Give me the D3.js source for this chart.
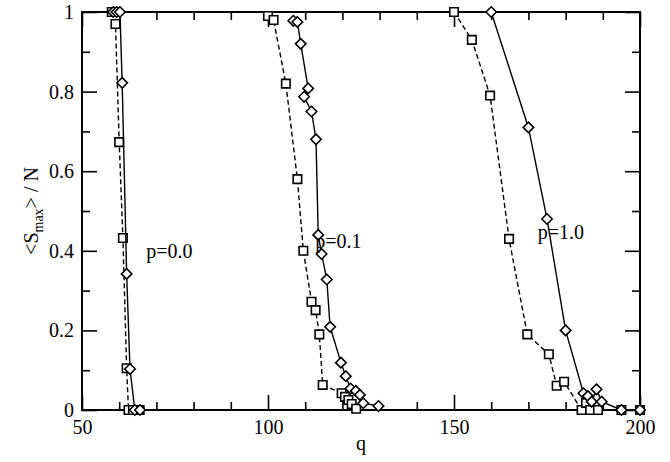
<!DOCTYPE html>
<html>
<head>
<meta charset="utf-8">
<script src="https://cdn.jsdelivr.net/npm/d3@7"></script>
<style>
    body { margin: 0; background: #fff; }
    svg { display: block; }
    text { font-family: "Liberation Serif", "DejaVu Serif", serif; fill: #000; }
</style>
</head>
<body>
<div class="svg"></div>
<script>
// ____________________________Data__________________________

// p = 0.0
const q00Sq = [58, 59, 60, 61, 62, 62.5, 63.7, 65.5];
const s00Sq = [1, 0.97, 0.673, 0.432, 0.105, 0, 0, 0];
const q00Di = [58.4, 59.3, 60.2, 60.8, 62, 62.9, 64.2, 65.6];
const s00Di = [1, 1, 1, 0.822, 0.342, 0.103, 0, 0];

// p = 0.1
const q01Sq = [100, 101.5, 104.8, 107.9, 109.5, 111.7, 112.8, 113.8, 114.7, 119.8, 120.7, 121.6, 122.5, 123.7];
const s01Sq = [0.99, 0.98, 0.82, 0.58, 0.40, 0.272, 0.251, 0.19, 0.063, 0.042, 0.033, 0.025, 0.015, 0.003];
const q01Di = [106.8, 107.9, 108.8, 110.8, 109.7, 111.7, 112.9, 113.5, 114.4, 115.8, 116.7, 119.6, 120.9, 122.2, 123.6, 124.7, 125.6, 129.7];
const s01Di = [0.978, 0.975, 0.92, 0.808, 0.787, 0.75, 0.68, 0.44, 0.392, 0.328, 0.209, 0.119, 0.085, 0.054, 0.048, 0.038, 0.017, 0.01];

// p = 1.0
const q10Sq = [150, 154.8, 159.7, 164.8, 169.7, 175.5, 177.6, 179.6, 184.3, 185.5, 186.6, 188.7, 195, 200];
const s10Sq = [1, 0.93, 0.79, 0.43, 0.19, 0.14, 0.061, 0.071, 0, 0.018, 0, 0, 0, 0];
const q10Di = [160, 170, 175, 180, 184.8, 186, 187, 188.3, 189.7, 195, 200];
const s10Di = [1, 0.71, 0.48, 0.2, 0.042, 0.035, 0.021, 0.052, 0.021, 0, 0];

const xTicks = [50, 100, 150, 200];
const yTicks = [0, 0.2, 0.4, 0.6, 0.8, 1];
const yTickLabels = ["0", "0.2", "0.4", "0.6", "0.8", "1"];

const labels = [
    {text: "p=0.0", q: 67.3, s: 0.383},
    {text: "p=0.1", q: 112.7, s: 0.407},
    {text: "p=1.0", q: 172.5, s: 0.430}
];

// ________________________________________D3 Graphing________________________________________

const width = 670;
const height = 462;
const margin = {top: 12, right: 30, bottom: 52, left: 82};

const svg = d3.select(".svg")
    .append("svg")
    .attr("width", width)
    .attr("height", height);

const xScale = d3.scaleLinear()
    .domain([50, 200])
    .range([margin.left, width - margin.right]);

const yScale = d3.scaleLinear()
    .domain([0, 1])
    .range([height - margin.bottom, margin.top]);

const x0 = xScale(50), x1 = xScale(200);
const y0 = yScale(0), y1 = yScale(1);

// minor ticks every 10 / 0.1, major every 50 / 0.2, all pointing inward on four sides
const xMinor = d3.range(60, 200, 10).filter(v => !xTicks.includes(v));
const yMinor = d3.range(1, 10, 2).map(v => v / 10);

function styleAxis(g) {
    g.select(".domain").remove();
    g.selectAll(".tick line").attr("stroke", "#000").attr("stroke-width", 1.6);
}

svg.append("g")
    .attr("transform", `translate(0,${y0})`)
    .call(d3.axisBottom(xScale).tickValues(xTicks).tickSize(-15).tickPadding(24).tickFormat(d3.format("d")))
    .call(styleAxis)
    .call(g => g.selectAll("text").attr("font-size", 20).attr("dy", 0));

svg.append("g")
    .attr("transform", `translate(0,${y0})`)
    .call(d3.axisBottom(xScale).tickValues(xMinor).tickSize(-8).tickFormat(""))
    .call(styleAxis);

svg.append("g")
    .attr("transform", `translate(0,${y1})`)
    .call(d3.axisTop(xScale).tickValues(xTicks).tickSize(-15).tickFormat(""))
    .call(styleAxis);

svg.append("g")
    .attr("transform", `translate(0,${y1})`)
    .call(d3.axisTop(xScale).tickValues(xMinor).tickSize(-8).tickFormat(""))
    .call(styleAxis);

svg.append("g")
    .attr("transform", `translate(${x0},0)`)
    .call(d3.axisLeft(yScale).tickValues(yTicks).tickSize(-15).tickPadding(8).tickFormat((d, i) => yTickLabels[i]))
    .call(styleAxis)
    .call(g => g.selectAll("text").attr("font-size", 20));

svg.append("g")
    .attr("transform", `translate(${x0},0)`)
    .call(d3.axisLeft(yScale).tickValues(yMinor).tickSize(-8).tickFormat(""))
    .call(styleAxis);

svg.append("g")
    .attr("transform", `translate(${x1},0)`)
    .call(d3.axisRight(yScale).tickValues(yTicks).tickSize(-15).tickFormat(""))
    .call(styleAxis);

svg.append("g")
    .attr("transform", `translate(${x1},0)`)
    .call(d3.axisRight(yScale).tickValues(yMinor).tickSize(-8).tickFormat(""))
    .call(styleAxis);

// frame
svg.append("rect")
    .attr("x", x0)
    .attr("y", y1)
    .attr("width", x1 - x0)
    .attr("height", y0 - y1)
    .attr("fill", "none")
    .attr("stroke", "#000")
    .attr("stroke-width", 2);

// series
const series = [
    {q: q00Sq, s: s00Sq, mark: "square"},
    {q: q00Di, s: s00Di, mark: "diamond"},
    {q: q01Sq, s: s01Sq, mark: "square"},
    {q: q01Di, s: s01Di, mark: "diamond"},
    {q: q10Sq, s: s10Sq, mark: "square"},
    {q: q10Di, s: s10Di, mark: "diamond"}
];

const line = d3.line()
    .x(d => xScale(d[0]))
    .y(d => yScale(d[1]));

const squareSym = d3.symbol().type(d3.symbolSquare).size(72);
const diamondSym = d3.symbol().type(d3.symbolDiamond2).size(70);

series.forEach(function(sr) {
    const pts = d3.zip(sr.q, sr.s);

    svg.append("path")
        .datum(pts)
        .attr("fill", "none")
        .attr("stroke", "#000")
        .attr("stroke-width", 1.4)
        .attr("stroke-dasharray", sr.mark === "square" ? "5,3" : null)
        .attr("d", line);

    svg.append("g")
        .selectAll("path")
        .data(pts)
        .join("path")
            .attr("transform", d => `translate(${xScale(d[0])},${yScale(d[1])})`)
            .attr("d", sr.mark === "square" ? squareSym : diamondSym)
            .attr("fill", "#fff")
            .attr("stroke", "#000")
            .attr("stroke-width", 1.6);
});

// annotations
svg.append("g")
    .selectAll("text")
    .data(labels)
    .join("text")
        .attr("x", d => xScale(d.q))
        .attr("y", d => yScale(d.s))
        .attr("font-size", 20)
        .text(d => d.text);

// axis titles
svg.append("text")
    .attr("x", (x0 + x1) / 2)
    .attr("y", 450)
    .attr("text-anchor", "middle")
    .attr("font-size", 20)
    .text("q");

const ylab = svg.append("text")
    .attr("text-anchor", "middle")
    .attr("font-size", 20)
    .attr("transform", `translate(38,${(y0 + y1) / 2}) rotate(-90)`);

ylab.append("tspan").text("<S");
ylab.append("tspan").attr("font-size", 14).attr("dy", 5).text("max");
ylab.append("tspan").attr("dy", -5).text("> / N");
</script>
</body>
</html>
